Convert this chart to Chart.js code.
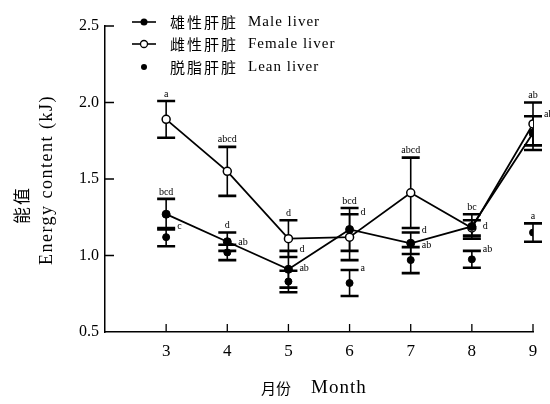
<!DOCTYPE html>
<html>
<head>
<meta charset="utf-8">
<script src="https://cdn.jsdelivr.net/npm/chart.js@4/dist/chart.umd.min.js"></script>
<style>
  html, body { margin: 0; padding: 0; background: #fff; }
  #wrap { width: 550px; height: 404px; position: relative; }
</style>
</head>
<body>
<div id="wrap"><canvas id="c" width="550" height="404"></canvas></div>
<script>
// ---- data ----
const months = [3, 4, 5, 6, 7, 8, 9];
const maleValues   = [1.27, 1.09, 0.91, 1.17, 1.08, 1.19, 1.80];
const maleErrors   = [0.10, 0.06, 0.12, 0.14, 0.07, 0.08, 0.11];
const femaleValues = [1.89, 1.55, 1.11, 1.12, 1.41, 1.18, 1.86];
const femaleErrors = [0.12, 0.16, 0.12, 0.15, 0.23, 0.05, 0.14];
const leanValues   = [1.12, 1.02, 0.83, 0.82, 0.97, 0.975, 1.15];
const leanErrors   = [0.06, 0.05, 0.07, 0.085, 0.085, 0.055, 0.06];

const maleLetters   = ['bcd', 'd', 'd', 'bcd', 'd', 'bc', 'ab'];
const femaleLetters = ['a', 'abcd', 'd', 'd', 'abcd', 'd', 'ab'];
const leanLetters   = ['c', 'ab', 'ab', 'a', 'ab', 'ab', 'a'];
const maleLetterPlace   = ['above', 'above', 'right', 'above', 'right', 'above', 'right'];
const femaleLetterPlace = ['above', 'above', 'above', 'right', 'above', 'point', 'above'];
const leanLetterPlace   = ['right', 'right', 'right', 'right', 'right', 'right', 'above'];

const yTicks = [0.5, 1.0, 1.5, 2.0, 2.5];
const xTickMonths = [3, 4, 5, 6, 7, 8, 9];

const seriesNamesZh = ['雄性肝脏', '雌性肝脏', '脱脂肝脏'];
const seriesNamesEn = ['Male liver', 'Female liver', 'Lean liver'];
const yTitleZh = '能值';
const yTitleEn = 'Energy content (kJ)';
const xTitleZh = '月份';
const xTitleEn = 'Month';

const SERIF = '"Liberation Serif", "DejaVu Serif", serif';
const CJK = '"Noto Sans CJK SC", sans-serif';

const toPts = (vals) => months.map((m, i) => ({ x: m, y: vals[i] }));

const errorInfo = [
  { errs: maleErrors, vals: maleValues, letters: maleLetters, place: maleLetterPlace },
  { errs: femaleErrors, vals: femaleValues, letters: femaleLetters, place: femaleLetterPlace },
  { errs: leanErrors, vals: leanValues, letters: leanLetters, place: leanLetterPlace }
];

const errorBarPlugin = {
  id: 'errorBars',
  beforeDatasetsDraw(chart) {
    const { ctx, scales: { x, y } } = chart;
    ctx.save();
    ctx.strokeStyle = '#000';
    errorInfo.forEach((s) => {
      months.forEach((m, i) => {
        const px = x.getPixelForValue(m);
        const top = y.getPixelForValue(s.vals[i] + s.errs[i]);
        const bot = y.getPixelForValue(s.vals[i] - s.errs[i]);
        ctx.lineWidth = 1.6;
        ctx.beginPath(); ctx.moveTo(px, top); ctx.lineTo(px, bot); ctx.stroke();
        ctx.lineWidth = 2.6;
        ctx.beginPath();
        ctx.moveTo(px - 9, top); ctx.lineTo(px + 9, top);
        ctx.moveTo(px - 9, bot); ctx.lineTo(px + 9, bot);
        ctx.stroke();
      });
    });
    ctx.restore();
  },
  afterDatasetsDraw(chart) {
    const { ctx, scales: { x, y } } = chart;
    ctx.save();
    ctx.fillStyle = '#000';
    ctx.font = '10px ' + SERIF;
    errorInfo.forEach((s) => {
      months.forEach((m, i) => {
        const px = x.getPixelForValue(m);
        const top = y.getPixelForValue(s.vals[i] + s.errs[i]);
        const mid = y.getPixelForValue(s.vals[i]);
        const t = s.letters[i];
        const p = s.place[i];
        if (p === 'above') {
          ctx.textAlign = 'center'; ctx.textBaseline = 'bottom';
          ctx.fillText(t, px, top - 2);
        } else if (p === 'right') {
          ctx.textAlign = 'left'; ctx.textBaseline = 'bottom';
          ctx.fillText(t, px + 11, top + 3);
        } else {
          ctx.textAlign = 'left'; ctx.textBaseline = 'middle';
          ctx.fillText(t, px + 11, mid - 2);
        }
      });
    });
    ctx.restore();
  }
};

const decorPlugin = {
  id: 'decor',
  afterDraw(chart) {
    const { ctx, chartArea: a, scales: { x, y } } = chart;
    ctx.save();
    ctx.strokeStyle = '#000';
    ctx.fillStyle = '#000';
    // inward ticks
    ctx.lineWidth = 1.3;
    ctx.beginPath();
    yTicks.forEach((v) => {
      if (v === y.min) return;
      const py = y.getPixelForValue(v);
      ctx.moveTo(a.left, py); ctx.lineTo(a.left + 9, py);
    });
    xTickMonths.forEach((m) => {
      const px = x.getPixelForValue(m);
      ctx.moveTo(px, a.bottom); ctx.lineTo(px, a.bottom - 8);
    });
    ctx.stroke();

    // y titles
    ctx.save();
    ctx.translate(22, 205);
    ctx.rotate(-Math.PI / 2);
    ctx.textAlign = 'center'; ctx.textBaseline = 'middle';
    ctx.font = '17px ' + CJK;
    ctx.letterSpacing = '2px';
    ctx.fillText(yTitleZh, 0, 0);
    ctx.restore();

    ctx.save();
    ctx.translate(47, 180);
    ctx.rotate(-Math.PI / 2);
    ctx.textAlign = 'center'; ctx.textBaseline = 'middle';
    ctx.font = '18px ' + SERIF;
    ctx.letterSpacing = '1.5px';
    ctx.fillText(yTitleEn, 0, 0);
    ctx.restore();

    // x title
    ctx.textBaseline = 'middle';
    ctx.textAlign = 'left';
    ctx.font = '15px ' + CJK;
    ctx.letterSpacing = '0px';
    ctx.fillText(xTitleZh, 261, 388);
    ctx.font = '19px ' + SERIF;
    ctx.letterSpacing = '1px';
    ctx.fillText(xTitleEn, 311, 388);

    // legend
    const rows = [22, 44, 67];
    rows.forEach((ry, i) => {
      ctx.lineWidth = 1.6;
      if (i < 2) {
        ctx.beginPath(); ctx.moveTo(132, ry); ctx.lineTo(156, ry); ctx.stroke();
      }
      ctx.beginPath();
      if (i === 1) {
        ctx.arc(144, ry, 3.5, 0, Math.PI * 2);
        ctx.fillStyle = '#fff'; ctx.fill();
        ctx.lineWidth = 1.3; ctx.stroke();
        ctx.fillStyle = '#000';
      } else {
        ctx.arc(144, ry, i === 0 ? 3.5 : 3, 0, Math.PI * 2);
        ctx.fill();
      }
      ctx.textAlign = 'left'; ctx.textBaseline = 'middle';
      ctx.font = '15px ' + CJK;
      ctx.letterSpacing = '2px';
      ctx.fillText(seriesNamesZh[i], 170, ry);
      ctx.font = '15px ' + SERIF;
      ctx.letterSpacing = '1px';
      ctx.fillText(seriesNamesEn[i], 248, ry);
    });
    ctx.restore();
  }
};

new Chart(document.getElementById('c'), {
  type: 'scatter',
  data: {
    datasets: [
      {
        label: seriesNamesEn[0], data: toPts(maleValues), showLine: true,
        borderColor: '#000', borderWidth: 1.8, backgroundColor: '#000',
        pointRadius: 4, pointBackgroundColor: '#000', pointBorderColor: '#000', pointBorderWidth: 1
      },
      {
        label: seriesNamesEn[1], data: toPts(femaleValues), showLine: true,
        borderColor: '#000', borderWidth: 1.8, backgroundColor: '#fff',
        pointRadius: 4, pointBackgroundColor: '#fff', pointBorderColor: '#000', pointBorderWidth: 1.5
      },
      {
        label: seriesNamesEn[2], data: toPts(leanValues), showLine: false,
        borderColor: '#000', backgroundColor: '#000',
        pointRadius: 3.5, pointBackgroundColor: '#000', pointBorderColor: '#000', pointBorderWidth: 1
      }
    ]
  },
  options: {
    responsive: false,
    animation: false,
    devicePixelRatio: 1,
    layout: { padding: { left: 0, top: 26, right: 17, bottom: 0 } },
    plugins: { legend: { display: false }, tooltip: { enabled: false } },
    scales: {
      x: {
        type: 'linear', min: 2, max: 9,
        afterFit(s) { s.height = 72; },
        grid: { display: false, drawTicks: false },
        border: { display: true, color: '#000', width: 1.5 },
        ticks: {
          stepSize: 1, padding: 9, color: '#000',
          font: { family: SERIF, size: 17 },
          callback: (v) => (v >= 3 ? String(v) : '')
        }
      },
      y: {
        type: 'linear', min: 0.5, max: 2.5,
        afterFit(s) { s.width = 105; },
        grid: { display: false, drawTicks: false },
        border: { display: true, color: '#000', width: 1.5 },
        ticks: {
          stepSize: 0.5, padding: 6, color: '#000',
          font: { family: SERIF, size: 16 },
          callback: (v) => Number(v).toFixed(1)
        }
      }
    }
  },
  plugins: [errorBarPlugin, decorPlugin]
});
</script>
</body>
</html>
